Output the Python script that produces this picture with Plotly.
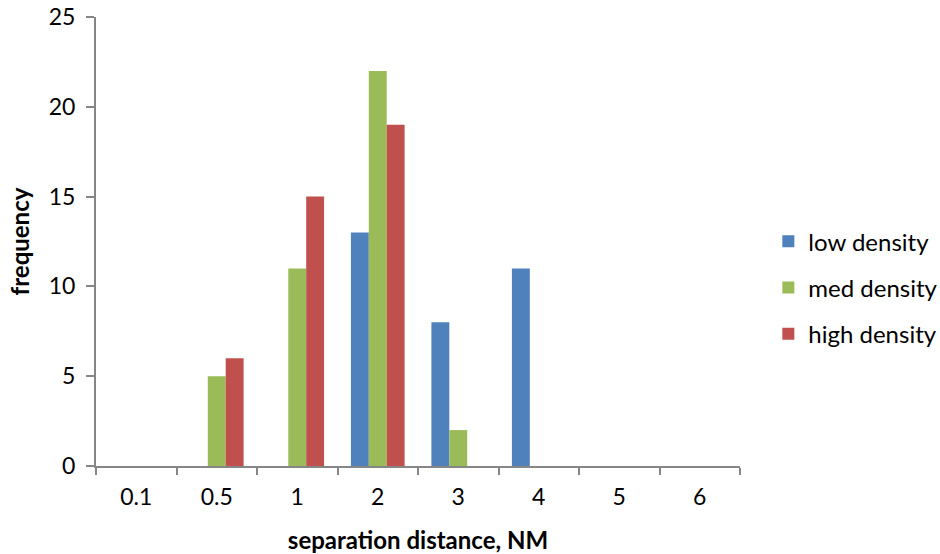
import plotly.graph_objects as go

categories = ["0.1", "0.5", "1", "2", "3", "4", "5", "6"]
low_density = [0, 0, 0, 13, 8, 11, 0, 0]
med_density = [0, 5, 11, 22, 2, 0, 0, 0]
high_density = [0, 6, 15, 19, 0, 0, 0, 0]

series = [
    ("low density", low_density, "#4F81BD"),
    ("med density", med_density, "#9BBB59"),
    ("high density", high_density, "#C0504D"),
]

font_family = "Lato, 'Open Sans', sans-serif"

fig = go.Figure()
for name, vals, color in series:
    fig.add_trace(go.Bar(x=categories, y=vals, name=name, marker_color=color,
                         marker_line_width=0, legendgroup=name))

fig.update_layout(
    width=940, height=554,
    margin=dict(l=96, r=200, t=17, b=88, autoexpand=False),
    paper_bgcolor="white", plot_bgcolor="white",
    barmode="group", bargap=0.333, bargroupgap=0,
    font=dict(family=font_family, size=23, color="black"),
    legend=dict(x=1.044, y=0.397, yanchor="middle", xanchor="left",
                font=dict(size=24), tracegroupgap=12, traceorder="grouped"),
    showlegend=True,
)
fig.update_xaxes(
    type="category", showline=True, linecolor="#868686", linewidth=2,
    ticks="outside", tickson="boundaries", ticklen=7, tickcolor="#868686", tickwidth=2,
    showgrid=False, tickfont=dict(size=23), ticklabelstandoff=9, automargin=False,
    title=dict(text="<b>separation distance, NM</b>", font=dict(size=24), standoff=24),
)
fig.update_yaxes(
    range=[0, 25], dtick=5, showline=True, linecolor="#868686", linewidth=2,
    ticks="outside", ticklen=8, tickcolor="#868686", tickwidth=2,
    showgrid=False, zeroline=False, tickfont=dict(size=23), ticklabelstandoff=6,
    automargin=False,
    title=dict(text="<b>frequency</b>", font=dict(size=24), standoff=12),
)

fig.write_html("out.html")
